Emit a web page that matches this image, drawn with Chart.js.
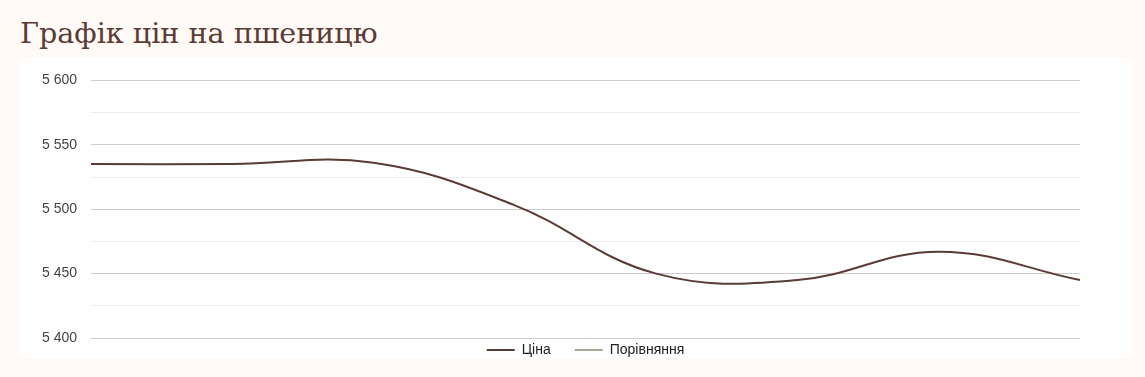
<!DOCTYPE html>
<html lang="uk">
<head>
<meta charset="utf-8">
<script src="https://cdn.jsdelivr.net/npm/chart.js@4"></script>
<style>
  html, body { margin:0; padding:0; width:1145px; height:377px; overflow:hidden; background:#fffaf6; }
  h1 { position:absolute; left:20px; top:15px; margin:0; font-family:"DejaVu Serif", serif; font-weight:normal; font-size:28.6px; line-height:36px; color:#5b3b33; white-space:nowrap; }
  #panel { position:absolute; left:20px; top:58px; width:1112px; height:300px; background:#ffffff; }
  #wrap { position:absolute; left:20px; top:58px; width:1111px; height:328px; }
</style>
</head>
<body>
<h1 id="title">Графік цін на пшеницю</h1>
<div id="panel"></div>
<div id="wrap"><canvas id="c"></canvas></div>
<script>
const categories = ['01.09', '08.09', '15.09', '22.09', '29.09', '06.10', '13.10', '20.10'];
const priceValues = [5535, 5535, 5536, 5503, 5450, 5445, 5467, 5445];
const compareValues = [];
const seriesNames = ['Ціна', 'Порівняння'];
const yMin = 5400, yMax = 5600, yStep = 25, yLabelStep = 50;

function fmt(v) { return String(v).replace(/\B(?=(\d{3})+(?!\d))/g, ' '); }

const legendShift = {
  id: 'legendShift',
  afterLayout(chart) {
    const lg = chart.legend;
    if (lg) { lg.top -= 19; lg.bottom -= 19; }
  }
};

new Chart(document.getElementById('c'), {
  type: 'line',
  data: {
    labels: categories,
    datasets: [
      { label: seriesNames[0], data: priceValues, borderColor: '#5b3b35', backgroundColor: '#5b3b35', borderWidth: 2, pointRadius: 0, tension: 0.4, fill: false },
      { label: seriesNames[1], data: compareValues, borderColor: '#a9a894', backgroundColor: '#a9a894', borderWidth: 2, pointRadius: 0, tension: 0.4, fill: false }
    ]
  },
  options: {
    responsive: true,
    maintainAspectRatio: false,
    animation: false,
    layout: { padding: { top: 21, right: 51, left: 0, bottom: 0 } },
    scales: {
      x: { display: false },
      y: {
        min: yMin, max: yMax,
        border: { display: false },
        grid: {
          drawTicks: false,
          color: ctx => (ctx.tick && ctx.tick.value % yLabelStep === 0) ? '#cccccc' : '#ebebeb',
          lineWidth: 1
        },
        ticks: {
          stepSize: yStep,
          padding: 14,
          color: '#444444',
          font: { family: '"Liberation Sans", Arial, sans-serif', size: 14 },
          callback: v => (v % yLabelStep === 0 ? fmt(v) : '')
        },
        afterFit(scale) { scale.width = 71; }
      }
    },
    plugins: {
      legend: {
        position: 'bottom',
        fullSize: false,
        labels: {
          usePointStyle: true,
          pointStyle: 'line',
          pointStyleWidth: 28,
          padding: 24,
          color: '#222222',
          font: { family: '"Liberation Sans", Arial, sans-serif', size: 14 }
        }
      },
      tooltip: { enabled: false }
    }
  },
  plugins: [legendShift]
});
</script>
</body>
</html>
